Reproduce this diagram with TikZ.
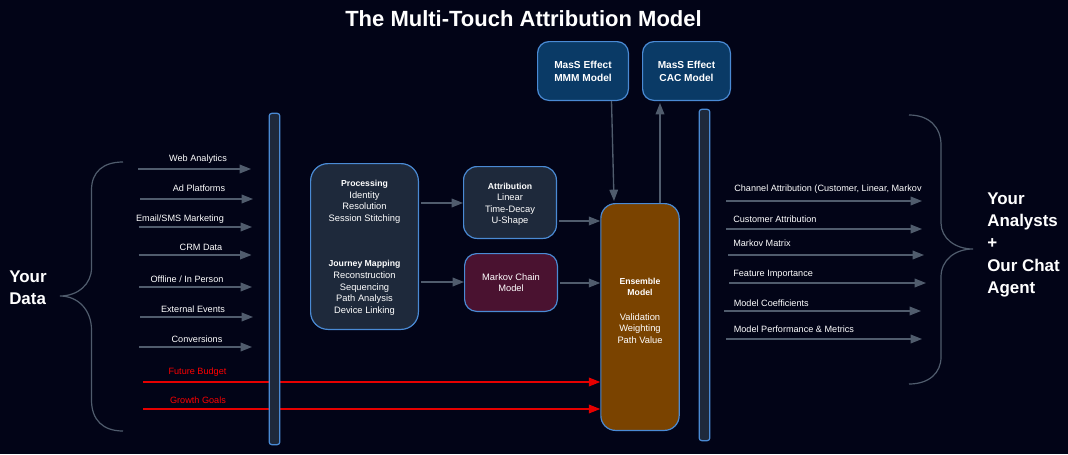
\documentclass[tikz,border=0pt]{standalone}
\usepackage{fontspec}
\setmainfont{Liberation Sans}
\usetikzlibrary{arrows.meta}
\definecolor{bgc}{HTML}{020417}
\definecolor{slatebox}{HTML}{1E293B}
\definecolor{edgeblue}{HTML}{4A8AD4}
\definecolor{arrowgrey}{HTML}{505C6D}
\definecolor{plumbox}{HTML}{4A1230}
\definecolor{brownbox}{HTML}{7A4300}
\definecolor{navybox}{HTML}{0A3A66}
\definecolor{redline}{HTML}{E60000}
\newcommand{\hd}[1]{{\fontsize{6.5pt}{8.7pt}\selectfont\bfseries #1}}
\tikzset{
  x=0.75pt,y=-0.75pt,
  box/.style={draw=edgeblue,line width=0.9pt,text=white,align=center,inner sep=0pt,
    font=\fontsize{7pt}{8.7pt}\selectfont},
  barbox/.style={draw=edgeblue,fill=slatebox,line width=0.9pt,rounded corners=2pt,inner sep=0pt},
  lab/.style={text=white,inner sep=0pt,font=\fontsize{6.85pt}{8.7pt}\selectfont},
  redlab/.style={lab,text=red},
  big/.style={text=white,inner sep=0pt,align=left,font=\fontsize{12.7pt}{16.7pt}\selectfont\bfseries},
  arr/.style={draw=arrowgrey,line width=1pt,-{Triangle[length=8.5pt,width=6.5pt,fill=arrowgrey]}},
  redarr/.style={draw=redline,line width=1pt,-{Triangle[length=8.5pt,width=6.5pt,fill=redline]}},
  brace/.style={draw=arrowgrey,line width=0.9pt},
}
\newcommand{\boxat}[7]{\node[box,fill=#6,rounded corners=#5,minimum width=#3*0.75pt-0.9pt,minimum height=#4*0.75pt-0.9pt] (#7) at (#1,#2)}
\begin{document}
\begin{tikzpicture}
\useasboundingbox[fill=bgc] (0,0) rectangle (1068,454);

\node[text=white,inner sep=0pt,font=\fontsize{16.5pt}{20pt}\selectfont\bfseries] (title) at (523.5,18.5) {The Multi-Touch Attribution Model};

% coordinates of free ends
\foreach \n/\xa/\xb/\yy in {w/138/251/169,ad/140/253/199,em/138.5/252/227,crm/138.5/251.5/255,off/139/252/287,ext/140/253/317,con/139/252/347,
  ch/726/922/201,cu/726/922/229,mm/728/924/255,fi/729/926/283,co/724/921/311,pe/726/922/339}{
  \coordinate (\n s) at (\xa,\yy);
  \coordinate (\n e) at (\xb,\yy);
}
\coordinate (fbs) at (143,382);
\coordinate (ggs) at (143,409);

% boxes
\boxat{364.5}{246.5}{109}{167}{13pt}{slatebox}{proc}{%
  \rule{0pt}{6.5pt}\hd{Processing}\\Identity\\Resolution\\Session Stitching\\[25.6pt]%
  \hd{Journey Mapping}\\Reconstruction\\Sequencing\\Path Analysis\\Device Linking};
\boxat{510}{202.5}{94}{73}{10pt}{slatebox}{attr}{\rule{0pt}{7.5pt}\hd{Attribution}\\Linear\\Time-Decay\\U-Shape};
\boxat{511}{282.5}{94}{59}{9pt}{plumbox}{mark}{Markov Chain\\Model};
\boxat{583}{71}{92}{60}{8.5pt}{navybox}{mmm}{{\fontsize{7.6pt}{9.5pt}\selectfont\bfseries MasS Effect}\\[0.9pt]{\fontsize{7.6pt}{9.5pt}\selectfont\bfseries MMM Model}};
\boxat{686.5}{71}{89}{60}{8.5pt}{navybox}{cac}{{\fontsize{7.6pt}{9.5pt}\selectfont\bfseries MasS Effect}\\[0.9pt]{\fontsize{7.6pt}{9.5pt}\selectfont\bfseries CAC Model}};
\boxat{640}{317}{79.5}{228}{11pt}{brownbox}{ens}{\hd{Ensemble}\\[-0.4pt]\hd{Model}\\[9.5pt]Validation\\Weighting\\Path Value\rule[-9pt]{0pt}{1pt}};

% connectors
\foreach \n in {w,ad,em,crm,off,ext,con,ch,cu,mm,fi,co,pe}{\draw[arr] (\n s) -- (\n e);}
\draw[redarr] (fbs) -- (ens.west |- fbs);
\draw[redarr] (ggs) -- (ens.west |- ggs);
\draw[arr,shorten <=1.5pt] (proc.east |- 0,203) -- (attr.west |- 0,203);
\draw[arr,shorten <=1.5pt] (proc.east |- 0,282) -- (mark.west |- 0,282);
\draw[arr,shorten <=1.5pt] (attr.east |- 0,221) -- (ens.west |- 0,221);
\draw[arr,shorten <=1.5pt] (mark.east |- 0,283) -- (ens.west |- 0,283);
\coordinate (mmmout) at (611.5,101);
\coordinate (mmmin) at (614,201);
\draw[arr] (mmmout) -- (mmmin);
\draw[arr,shorten >=1.5pt] (ens.north -| 660,0) -- (cac.south -| 660,0);

% bars on top of the red lines
\node[barbox,minimum width=8pt,minimum height=248.5pt] (barl) at (274.5,279) {};
\node[barbox,minimum width=8pt,minimum height=248.5pt] (barr) at (704.5,275) {};

% braces
\draw[brace] (123,162) .. controls (103,162) and (91.5,172) .. (91.5,190) -- (91.5,268)
  .. controls (91.5,284) and (78,296) .. (60,296)
  .. controls (78,296) and (91.5,310) .. (91.5,330) -- (91.5,400)
  .. controls (91.5,420) and (103,431) .. (123,431);
\draw[brace] (909,115) .. controls (929,115) and (941,127) .. (941,145) -- (941,223)
  .. controls (941,238) and (955,249) .. (973,249)
  .. controls (955,249) and (941,260) .. (941,277) -- (941,357)
  .. controls (941,373) and (929,384) .. (909,384);

% labels
\node[lab] (lw) at (198,159) {Web Analytics};
\node[lab] (lad) at (199,188.5) {Ad Platforms};
\node[lab] (lem) at (180,219) {Email/SMS Marketing};
\node[lab] (lcrm) at (201,247) {CRM Data};
\node[lab] (loff) at (187,279) {Offline / In Person};
\node[lab] (lext) at (193,309) {External Events};
\node[lab] (lcon) at (197,339) {Conversions};
\node[redlab] (lfb) at (197.5,372) {Future Budget};
\node[redlab] (lgg) at (198,400) {Growth Goals};
\node[lab,anchor=west] (lch) at (734,189.5) {Channel Attribution (Customer, Linear, Markov};
\node[lab,anchor=west] (lcu) at (733,219) {Customer Attribution};
\node[lab,anchor=west] (lmm) at (733,243.5) {Markov Matrix};
\node[lab,anchor=west] (lfi) at (733,274) {Feature Importance};
\node[lab,anchor=west] (lco) at (733.5,303) {Model Coefficients};
\node[lab,anchor=west] (lpe) at (733.5,329) {Model Performance \& Metrics};

\node[big,anchor=north west] (yd) at (9,270.5) {Your\\Data};
\node[big,anchor=north west] (ya) at (987,192.5) {Your\\Analysts\\+\\Our Chat\\Agent};
\end{tikzpicture}
\end{document}
